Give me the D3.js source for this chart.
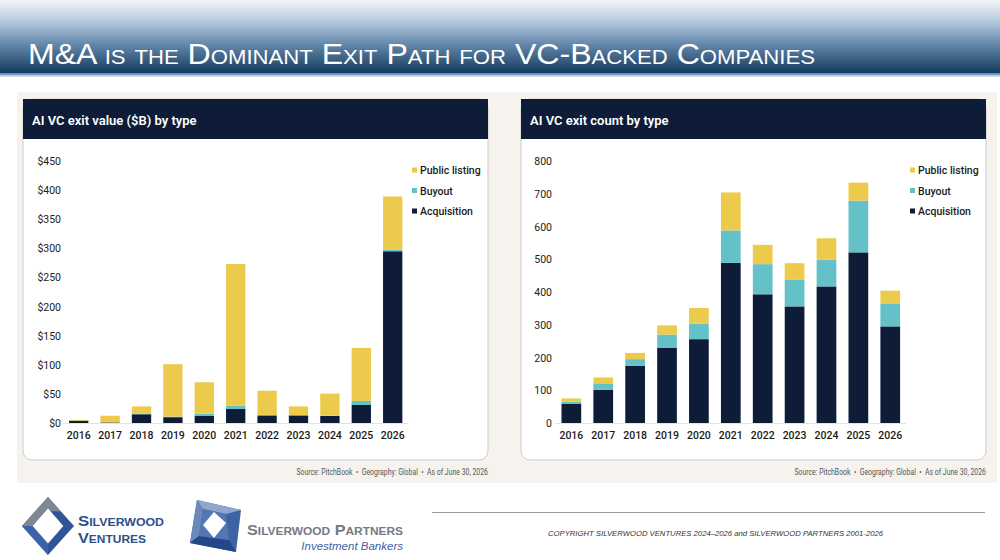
<!DOCTYPE html>
<html>
<head>
<meta charset="utf-8">
<title>AI VC exits</title>
<script src="https://cdn.jsdelivr.net/npm/d3@7/dist/d3.min.js"></script>
<style>
body { margin:0; padding:0; background:#fff; }
svg text { font-family: Roboto, "Liberation Sans", sans-serif; }
</style>
</head>
<body>
<script>
  // data
  var years = ["2016","2017","2018","2019","2020","2021","2022","2023","2024","2025","2026"];
  var series = ["Acquisition","Buyout","Public listing"];
  var colors = ["#0e1c38","#64c1c8","#ecca4b"];

  // exit value, $B
  var valueAcq = [4, 1, 15, 10, 12, 24, 13, 13, 12, 31, 295];
  var valueBuy = [0, 0, 0.5, 1, 4, 6, 0.5, 0.5, 0.5, 7, 3];
  var valuePub = [1.5, 11.5, 13, 90, 54, 243, 42, 15, 38, 91, 91];
  var valueTicks = [0,50,100,150,200,250,300,350,400,450];

  // exit count
  var countAcq = [58, 101, 175, 229, 256, 489, 393, 356, 417, 521, 295];
  var countBuy = [7, 20, 20, 41, 47, 99, 92, 81, 82, 158, 70];
  var countPub = [10, 18, 19, 28, 48, 116, 59, 51, 65, 55, 39];
  var countTicks = [0,100,200,300,400,500,600,700,800];

  var source = "Source: PitchBook  \u2022  Geography: Global  \u2022  As of June 30, 2026";

  var svg = d3.select("body").append("svg").attr("width",1000).attr("height",560);

  // ---- top banner
  var grad = svg.append("defs").append("linearGradient").attr("id","band").attr("x1",0).attr("y1",0).attr("x2",0).attr("y2",1);
  grad.append("stop").attr("offset","0%").attr("stop-color","#f3f6fa");
  grad.append("stop").attr("offset","30%").attr("stop-color","#b3c7db");
  grad.append("stop").attr("offset","60%").attr("stop-color","#6589ad");
  grad.append("stop").attr("offset","100%").attr("stop-color","#143a5b");
  svg.append("rect").attr("x",0).attr("y",0).attr("width",1000).attr("height",73).attr("fill","url(#band)");
  svg.append("rect").attr("x",0).attr("y",73).attr("width",1000).attr("height",2.5).attr("fill","#6f94bd");
  svg.append("rect").attr("x",0).attr("y",75.5).attr("width",1000).attr("height",1.5).attr("fill","#cfdbe8");

  svg.append("text").text("M&A is the Dominant Exit Path for VC-Backed Companies")
    .attr("x",28).attr("y",64).attr("fill","white")
    .style("font-family","'Liberation Sans', Arial, sans-serif").style("font-size","29px")
    .style("font-variant","small-caps")
    .attr("textLength",787).attr("lengthAdjust","spacingAndGlyphs");

  // ---- beige panel
  svg.append("rect").attr("x",17).attr("y",92).attr("width",980).attr("height",391).attr("fill","#f6f3ee");

  function drawCard(opt){
    var g = svg.append("g");
    g.append("rect").attr("x",opt.x0).attr("y",99).attr("width",opt.x1-opt.x0).attr("height",361)
      .attr("rx",9).attr("fill","white").attr("stroke","#cbcbcb").attr("stroke-width",1);
    g.append("rect").attr("x",opt.x0).attr("y",99).attr("width",opt.x1-opt.x0).attr("height",40).attr("fill","#0e1c38");
    g.append("text").text(opt.title).attr("x",opt.x0+9).attr("y",124.5).attr("fill","white")
      .style("font-size","13px").style("font-weight","600");

    var data = years.map(function(y,i){
      return {year:y, "Acquisition":opt.acq[i], "Buyout":opt.buy[i], "Public listing":opt.pub[i]};
    });
    var stacked = d3.stack().keys(series)(data);

    var x = d3.scaleBand().domain(years).range(opt.xr).paddingInner(opt.pad).paddingOuter(opt.pad/2);
    var y = d3.scaleLinear().domain([0,opt.ymax]).range([423,161]);

    // y labels
    g.selectAll(".yt").data(opt.ticks).enter().append("text")
      .attr("x",opt.labX).attr("y",function(d){ return y(d)+4; })
      .attr("text-anchor","end").attr("fill","#222")
      .style("font-size","10.5px")
      .text(opt.fmt);

    // baseline
    g.append("line").attr("x1",opt.xr[0]).attr("x2",opt.xr[1]).attr("y1",y(0)+0.5).attr("y2",y(0)+0.5)
      .attr("stroke","#e3e3e3").attr("stroke-width",1);

    g.selectAll(".layer").data(stacked).enter().append("g")
      .attr("fill",function(d,i){ return colors[i]; })
      .selectAll("rect").data(function(d){ return d; }).enter().append("rect")
      .attr("x",function(d){ return x(d.data.year); })
      .attr("width",x.bandwidth())
      .attr("y",function(d){ return y(d[1]); })
      .attr("height",function(d){ return Math.max(0, y(d[0]) - y(d[1])); });

    // x labels
    var xa = g.append("g").attr("transform","translate(0,"+y(0)+")")
      .call(d3.axisBottom(x).tickSize(0).tickPadding(9));
    xa.select(".domain").remove();
    xa.selectAll("text").attr("fill","#1a1a1a").style("font-size","10.5px").style("font-weight","500")
      .style("font-family","Roboto, sans-serif");

    // legend, top item is the top of the stack
    var leg = g.selectAll(".leg").data(series.slice().reverse()).enter().append("g")
      .attr("transform",function(d,i){ return "translate("+opt.legX+","+(170+i*20.5)+")"; });
    leg.append("rect").attr("x",0).attr("y",-2.5).attr("width",5).attr("height",5)
      .attr("fill",function(d){ return colors[series.indexOf(d)]; });
    leg.append("text").attr("x",8).attr("y",4).text(function(d){ return d; })
      .attr("fill","#1a1a1a").style("font-size","10.5px").style("font-weight","500");

    // source note, squeezed to the narrow look of the original
    var src = svg.append("text").text(source).attr("x",0).attr("y",0).attr("text-anchor","end")
      .attr("fill","#555").style("font-size","8.5px").style("white-space","pre");
    var k = 192 / src.node().getComputedTextLength();
    src.attr("transform","translate("+opt.x1+",475) scale("+k+",1)");
  }

  drawCard({x0:23, x1:488, title:"AI VC exit value ($B) by type", acq:valueAcq, buy:valueBuy, pub:valuePub,
            ymax:450, ticks:valueTicks, fmt:function(d){ return "$"+d; }, labX:61,
            xr:[63,408.4], pad:0.385, legX:412});
  drawCard({x0:521, x1:986, title:"AI VC exit count by type", acq:countAcq, buy:countBuy, pub:countPub,
            ymax:800, ticks:countTicks, fmt:function(d){ return d; }, labX:552,
            xr:[555.4,906.2], pad:0.382, legX:910});

  // ---- footer logos
  var lv = svg.append("g");
  lv.append("polygon").attr("points","48,497 74,526 48,555 22,526").attr("fill","#2f5597");
  lv.append("polygon").attr("points","48,497 61,511.5 48,511 35,526 22,526").attr("fill","#7d8893");
  lv.append("polygon").attr("points","22,526 35,526 48,541 48,555").attr("fill","#3c63a6");
  lv.append("polygon").attr("points","48,510 62,526 48,542 34,526").attr("fill","white").attr("stroke","#ffffff").attr("stroke-width",2);
  lv.append("polygon").attr("points","48,514 58,526 48,538 38,526").attr("fill","white");
  lv.append("text").text("Silverwood").attr("x",78).attr("y",526).attr("fill","#2d4f8c")
    .style("font-family","'Liberation Sans', sans-serif").style("font-weight","bold").style("font-size","15px")
    .style("font-variant","small-caps").attr("textLength",86).attr("lengthAdjust","spacingAndGlyphs");
  lv.append("text").text("Ventures").attr("x",78).attr("y",543).attr("fill","#2d4f8c")
    .style("font-family","'Liberation Sans', sans-serif").style("font-weight","bold").style("font-size","15px")
    .style("font-variant","small-caps").attr("textLength",68).attr("lengthAdjust","spacingAndGlyphs");

  var lp = svg.append("g");
  lp.append("polygon").attr("points","197,500 241,510 236,552 190,543").attr("fill","#3e63a3");
  lp.append("polygon").attr("points","197,500 241,510 226,514 203,509").attr("fill","#8fa7cc");
  lp.append("polygon").attr("points","190,543 197,500 203,509 199,536").attr("fill","#6c89bb");
  lp.append("polygon").attr("points","236,552 190,543 199,536 229,540").attr("fill","#24478a");
  lp.append("polygon").attr("points","203,509 226,514 229,540 199,536").attr("fill","#5277b3");
  lp.append("polygon").attr("points","214,512 226,523 214,538 203,525").attr("fill","white");
  lp.append("text").text("Silverwood Partners").attr("x",247).attr("y",535).attr("fill","#737a84")
    .style("font-family","'Liberation Sans', sans-serif").style("font-weight","bold").style("font-size","15px")
    .style("font-variant","small-caps").attr("textLength",156).attr("lengthAdjust","spacingAndGlyphs");
  lp.append("text").text("Investment Bankers").attr("x",403).attr("y",550).attr("text-anchor","end").attr("fill","#3f62a3")
    .style("font-family","'Liberation Sans', sans-serif").style("font-style","italic").style("font-size","11.5px");

  svg.append("line").attr("x1",432).attr("x2",985).attr("y1",512.5).attr("y2",512.5).attr("stroke","#9a9a9a").attr("stroke-width",1.2);
  svg.append("text").text("COPYRIGHT SILVERWOOD VENTURES 2024\u20132026 and SILVERWOOD PARTNERS 2001-2026")
    .attr("x",548).attr("y",536).attr("fill","#333")
    .style("font-family","'Liberation Sans', sans-serif").style("font-style","italic").style("font-size","8px")
    .attr("textLength",335).attr("lengthAdjust","spacingAndGlyphs");
</script>
</body>
</html>
